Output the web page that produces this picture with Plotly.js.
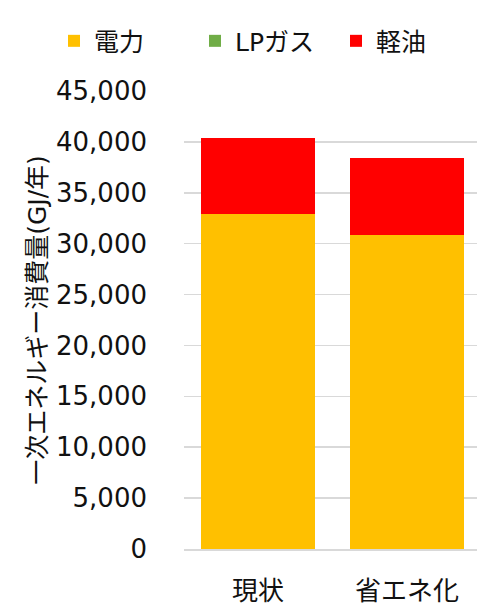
<!DOCTYPE html>
<html><head><meta charset="utf-8">
<script src="https://cdn.plot.ly/plotly-3.0.1.min.js"></script>
<style>html,body{margin:0;padding:0;background:#fff}#c{width:477px;height:607px}</style>
</head><body><div id="c"></div>
<script>
const categories = ["現状", "省エネ化"];
const seriesNames = ["電力", "LPガス", "軽油"];
const electricity = [32900, 30850];
const lpgas = [0, 0];
const diesel = [7500, 7520];
const colors = ["#FFC000", "#70AD47", "#FF0000"];
const yTicks = [0, 5000, 10000, 15000, 20000, 25000, 30000, 35000, 40000, 45000];
const yTickText = ["0", "5,000", "10,000", "15,000", "20,000", "25,000", "30,000", "35,000", "40,000", "45,000"];

const font = "'DejaVu Sans', 'Noto Sans CJK JP', sans-serif";
const values = [electricity, lpgas, diesel];
const traces = seriesNames.map((n, i) => ({
  type: "bar", name: n, x: categories, y: values[i],
  marker: {color: colors[i], line: {width: 0}}, hoverinfo: "none"
}));

const layout = {
  width: 477, height: 607,
  margin: {l: 184, r: 0, t: 91, b: 58, pad: 0},
  barmode: "stack", bargap: 0.235,
  paper_bgcolor: "#fff", plot_bgcolor: "#fff",
  font: {family: font, size: 25, color: "#111"},
  showlegend: true,
  legend: {orientation: "h", x: -0.44, xanchor: "left", y: 1.109, yanchor: "middle",
    font: {family: font, size: 25, color: "#111"}, traceorder: "normal",
    itemwidth: 30, entrywidth: 96, entrywidthmode: "pixels"},
  xaxis: {type: "category", range: [-0.497, 1.47], showgrid: false, zeroline: false,
    showline: true, linecolor: "#D9D9D9", linewidth: 1.5, ticks: "",
    tickfont: {family: font, size: 26, color: "#111"}, ticklabelstandoff: 18},
  yaxis: {range: [0, 45000], tickvals: yTicks, ticktext: yTickText, showgrid: true,
    gridcolor: "#D9D9D9", gridwidth: 1.5, zeroline: false, showline: false, ticks: "",
    tickfont: {family: font, size: 26, color: "#111"}, ticklabelstandoff: 36,
    title: {text: "一次エネルギー消費量(GJ/年)", font: {family: font, size: 25, color: "#111"}, standoff: 2}}
};
Plotly.newPlot("c", traces, layout, {staticPlot: true, displayModeBar: false});
</script></body></html>
